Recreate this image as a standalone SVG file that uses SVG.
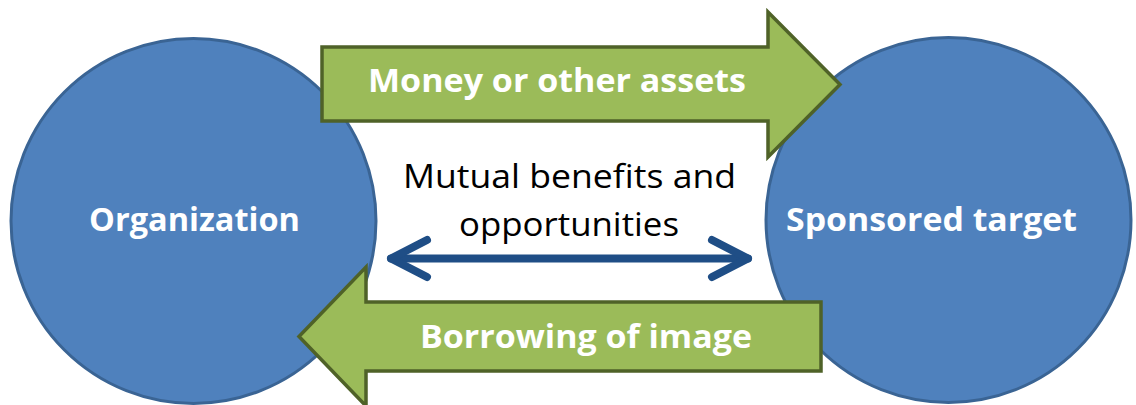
<svg xmlns="http://www.w3.org/2000/svg" width="1136" height="405" viewBox="0 0 1136 405">
  <style>
    .node { fill: #4F81BD; stroke: #3A6494; stroke-width: 3; }
    .band { fill: #9BBB59; stroke: #4F6228; stroke-width: 3.5; stroke-linejoin: miter; }
    .wt { fill: #FFFFFF; font-family: "Open Sans", "Liberation Sans", sans-serif; font-weight: bold; font-size: 33px; }
    .bt { fill: #000000; font-family: "Open Sans", "Liberation Sans", sans-serif; font-size: 32px; }
    .dbl { fill: none; stroke: #1F4E86; stroke-width: 8; stroke-linecap: round; stroke-linejoin: round; }
  </style>
  <rect width="1136" height="405" fill="#FFFFFF"/>
  <g id="organization">
    <circle class="node" cx="193.5" cy="221" r="182.5"/>
    <text class="wt" x="89" y="231" textLength="211" lengthAdjust="spacingAndGlyphs">Organization</text>
  </g>
  <g id="sponsored-target">
    <circle class="node" cx="948.5" cy="220" r="182.5"/>
    <text class="wt" x="786" y="231" textLength="291" lengthAdjust="spacingAndGlyphs">Sponsored target</text>
  </g>
  <g id="connectors">
    <g id="money-arrow">
      <polygon class="band" points="322,47 768,47 768,12 840,84.5 768,157 768,121 322,121"/>
      <text class="wt" x="368" y="92" textLength="378" lengthAdjust="spacingAndGlyphs">Money or other assets</text>
    </g>
    <g id="image-arrow">
      <polygon class="band" points="821,302 366,302 366,267 299,336.5 366,406 366,371 821,371"/>
      <text class="wt" x="420" y="348" textLength="332" lengthAdjust="spacingAndGlyphs">Borrowing of image</text>
    </g>
    <g id="mutual-arrow">
      <line class="dbl" x1="391" y1="258.5" x2="748" y2="258.5"/>
      <polyline class="dbl" points="427,240 391,258.5 427,277"/>
      <polyline class="dbl" points="712,240 748,258.5 712,277"/>
    </g>
  </g>
  <g id="mutual-label">
    <text class="bt" x="403" y="188" textLength="333" lengthAdjust="spacingAndGlyphs">Mutual benefits and</text>
    <text class="bt" x="459" y="236" textLength="220" lengthAdjust="spacingAndGlyphs">opportunities</text>
  </g>
</svg>
